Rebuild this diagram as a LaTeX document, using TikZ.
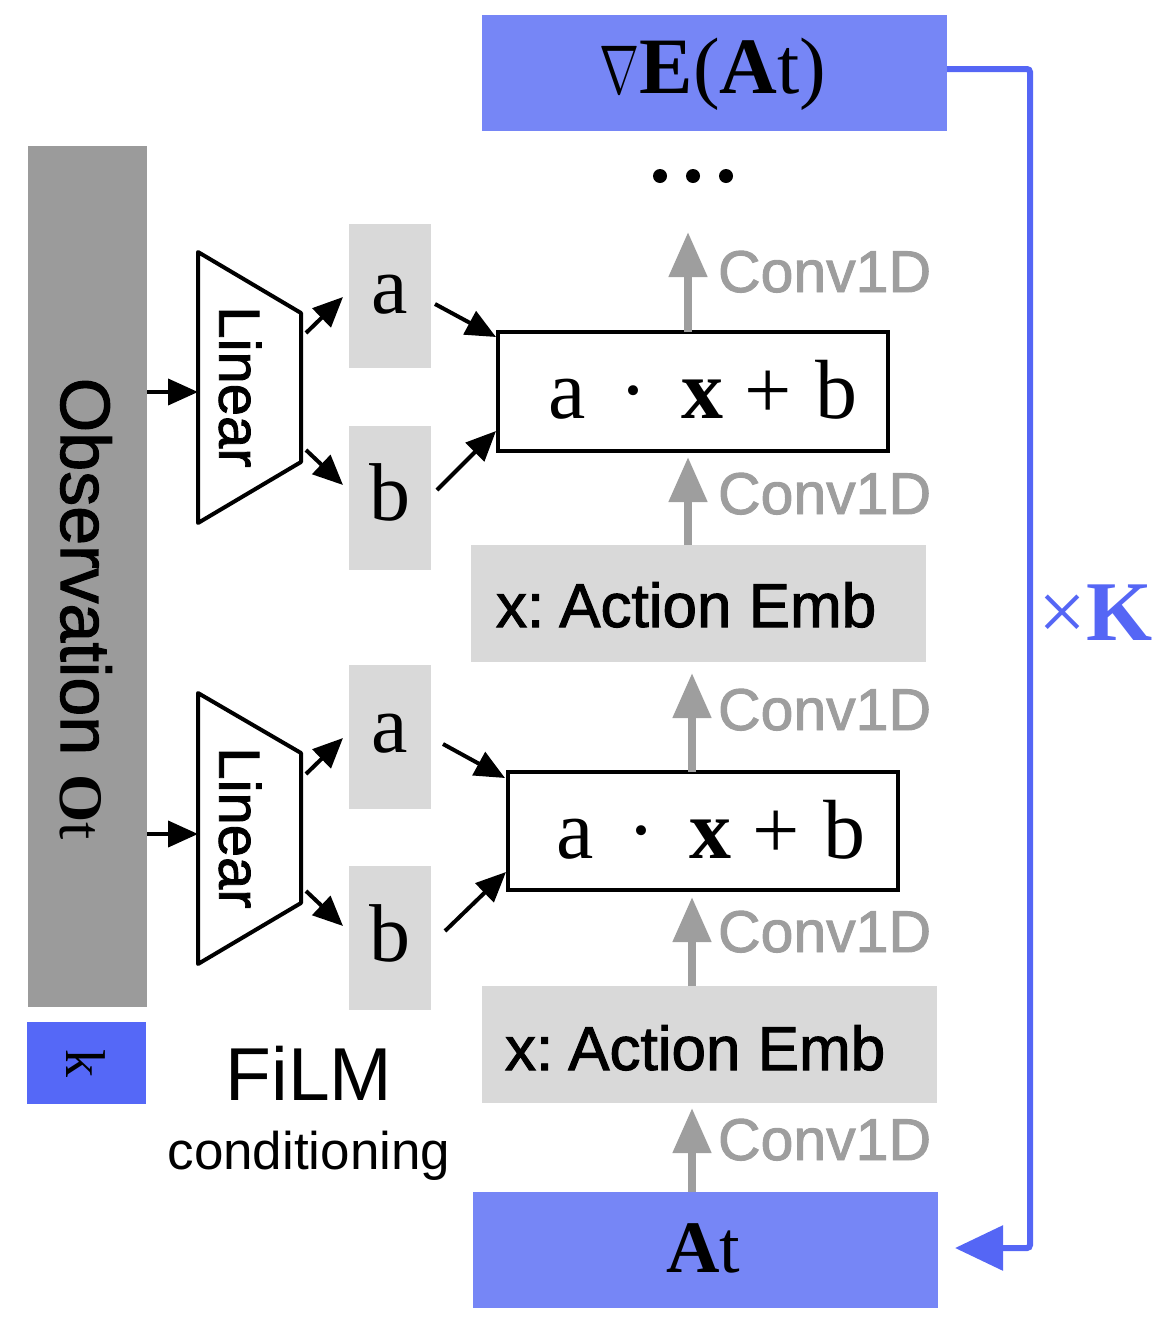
\documentclass[tikz,border=0pt]{standalone}
\usepackage{fontspec}
\usepackage{graphicx}
\setmainfont{Liberation Serif}
\setsansfont{Liberation Sans}
\newfontfamily\medsans{Liberation Sans}[FakeBold=1.6]
\usetikzlibrary{arrows.meta}
\definecolor{topblue}{RGB}{118,134,246}
\definecolor{kblue}{RGB}{85,104,247}
\definecolor{loopblue}{RGB}{85,102,245}
\definecolor{obsgray}{RGB}{155,155,155}
\definecolor{boxgray}{RGB}{217,217,217}
\definecolor{convgray}{RGB}{158,158,158}
\newcommand\myfs[1]{\fontsize{#1}{#1}\selectfont}
\tikzset{
  box/.style={inner sep=0pt, outer sep=0pt, anchor=north west, draw=none},
  framebox/.style={inner sep=0pt, outer sep=0pt, anchor=north west, draw=black, line width=4pt, fill=white},
  txt/.style={inner sep=0pt, outer sep=0pt},
  blk/.style={line width=4pt, draw=black, -{Triangle[length=30pt,width=26pt]}},
  grayarr/.style={line width=8pt, draw=convgray, -{Triangle[length=45pt,width=37pt]}},
  loopline/.style={line width=6pt, draw=loopblue, rounded corners=3pt, -{Triangle[length=48pt,width=44pt]}},
  conv/.style={txt, anchor=base west, text=convgray, font=\medsans\myfs{59}},
  trap/.style={line width=4pt, draw=black, line join=round},
}
\begin{document}
\begin{tikzpicture}[x=1pt,y=-1pt]
\useasboundingbox (0,0) rectangle (1158,1320);

% ---- boxes ----
\node[box, fill=topblue, minimum width=465pt, minimum height=116pt] (grad) at (482,15) {};
\node[box, fill=obsgray, minimum width=119pt, minimum height=861pt] (obs) at (28,146) {};
\node[box, fill=kblue, minimum width=119pt, minimum height=82pt] (kbox) at (27,1022) {};
\node[box, fill=boxgray, minimum width=82pt, minimum height=144pt] (a1) at (349,224) {};
\node[box, fill=boxgray, minimum width=82pt, minimum height=144pt] (b1) at (349,426) {};
\node[box, fill=boxgray, minimum width=82pt, minimum height=144pt] (a2) at (349,665) {};
\node[box, fill=boxgray, minimum width=82pt, minimum height=144pt] (b2) at (349,866) {};
\node[framebox, minimum width=390pt, minimum height=119pt] (film1) at (498,332) {};
\node[framebox, minimum width=390pt, minimum height=118pt] (film2) at (508,772) {};
\node[box, fill=boxgray, minimum width=455pt, minimum height=117pt] (ae1) at (471,545) {};
\node[box, fill=boxgray, minimum width=455pt, minimum height=117pt] (ae2) at (482,986) {};
\node[box, fill=topblue, minimum width=465pt, minimum height=116pt] (at) at (473,1192) {};

% ---- trapezoids ----
\coordinate (t1a) at (198,252); \coordinate (t1b) at (301,313);
\coordinate (t1c) at (301,462); \coordinate (t1d) at (198,523);
\draw[trap] (t1a) -- (t1b) -- (t1c) -- (t1d) -- cycle;
\coordinate (t2a) at (198,693); \coordinate (t2b) at (301,753);
\coordinate (t2c) at (301,903); \coordinate (t2d) at (198,964);
\draw[trap] (t2a) -- (t2b) -- (t2c) -- (t2d) -- cycle;

% ---- texts ----
\node[txt, anchor=base] (gradtxt) at (713,93) {\myfs{80}{\fontsize{10}{10}\selectfont\scalebox{4.8}[6.9]{$\nabla$}}\textbf{E}(\textbf{A}t)};
\node[txt, rotate=-90] (obstxt) at (86,609) {\medsans\myfs{70}Observation \rmfamily\myfs{62}\textbf{O}t};
\node[txt, rotate=-90] (ktxt) at (86,1063) {\rmfamily\myfs{56}k};
\node[txt, rotate=-90] (lin1) at (240,387) {\medsans\myfs{58}Linear};
\node[txt, rotate=-90] (lin2) at (240,828) {\medsans\myfs{58}Linear};
\node[txt, anchor=base] (a1t) at (390,313) {\myfs{82}a};
\node[txt, anchor=base] (b1t) at (390,520) {\myfs{82}b};
\node[txt, anchor=base] (a2t) at (390,752) {\myfs{82}a};
\node[txt, anchor=base] (b2t) at (390,961) {\myfs{82}b};
\node[txt, anchor=base west] (f1t) at (548,418) {\myfs{84}a\hspace{34pt}·\hspace{34pt}\textbf{x}\hspace{21pt}+\hspace{24pt}b};
\node[txt, anchor=base west] (f2t) at (556,858) {\myfs{84}a\hspace{34pt}·\hspace{34pt}\textbf{x}\hspace{21pt}+\hspace{24pt}b};
\node[txt, anchor=base west] (ae1t) at (496,627) {\medsans\myfs{62}x:\hspace{15pt}Action Emb};
\node[txt, anchor=base west] (ae2t) at (505,1070) {\medsans\myfs{62}x:\hspace{15pt}Action Emb};
\node[txt, anchor=base] (attxt) at (703,1272) {\myfs{74}\textbf{A}t};
\node[txt, anchor=base, text=loopblue] (xk) at (1096,640) {\myfs{85}×\textbf{K}};
\node[txt, anchor=base] (filmt) at (309,1100) {\sffamily\myfs{75}FiLM};
\node[txt, anchor=base] (cond) at (309,1169) {\sffamily\myfs{53}conditioning};

% ---- dots ----
\fill (660,176) circle[radius=7pt];
\fill (693,176) circle[radius=7pt];
\fill (726,176) circle[radius=7pt];

% ---- Conv1D arrows ----
\coordinate (c1) at (688,232);
\coordinate (c2) at (688,457);
\coordinate (c3) at (692,673);
\coordinate (c4) at (692,897);
\coordinate (c5) at (692,1108);
\draw[grayarr] (c1 |- film1.north) -- (c1);
\draw[grayarr] (c2 |- ae1.north) -- (c2);
\draw[grayarr] (c3 |- film2.north) -- (c3);
\draw[grayarr] (c4 |- ae2.north) -- (c4);
\draw[grayarr] (c5 |- at.north) -- (c5);
\node[conv] (cv1) at (718,292) {Conv1D};
\node[conv] (cv2) at (718,514) {Conv1D};
\node[conv] (cv3) at (718,730) {Conv1D};
\node[conv] (cv4) at (718,952) {Conv1D};
\node[conv] (cv5) at (718,1160) {Conv1D};

% ---- black arrows ----
\coordinate (t1in) at (198,392);
\coordinate (t2in) at (198,834);
\draw[blk] (t1in -| obs.east) -- (t1in);
\draw[blk] (t2in -| obs.east) -- (t2in);
\coordinate (t1ao) at (306,333); \coordinate (a1in) at (343,297);
\coordinate (t1bo) at (306,450); \coordinate (b1in) at (343,485);
\coordinate (a1o) at (435,304);  \coordinate (f1a) at (496,337);
\coordinate (b1o) at (437,490);  \coordinate (f1b) at (496,431);
\draw[blk] (t1ao) -- (a1in);
\draw[blk] (t1bo) -- (b1in);
\draw[blk] (a1o) -- (f1a);
\draw[blk] (b1o) -- (f1b);
\coordinate (t2ao) at (306,774); \coordinate (a2in) at (343,738);
\coordinate (t2bo) at (306,891); \coordinate (b2in) at (343,926);
\coordinate (a2o) at (443,744);  \coordinate (f2a) at (505,778);
\coordinate (b2o) at (445,931);  \coordinate (f2b) at (506,872);
\draw[blk] (t2ao) -- (a2in);
\draw[blk] (t2bo) -- (b2in);
\draw[blk] (a2o) -- (f2a);
\draw[blk] (b2o) -- (f2b);

% ---- loop ----
\coordinate (loopx) at (1030,0);
\draw[loopline] ([yshift=4pt]grad.east) -- ([yshift=4pt]grad.east -| loopx) -- ([yshift=2pt]at.east -| loopx) -- ([xshift=17pt,yshift=2pt]at.east);
\end{tikzpicture}
\end{document}
